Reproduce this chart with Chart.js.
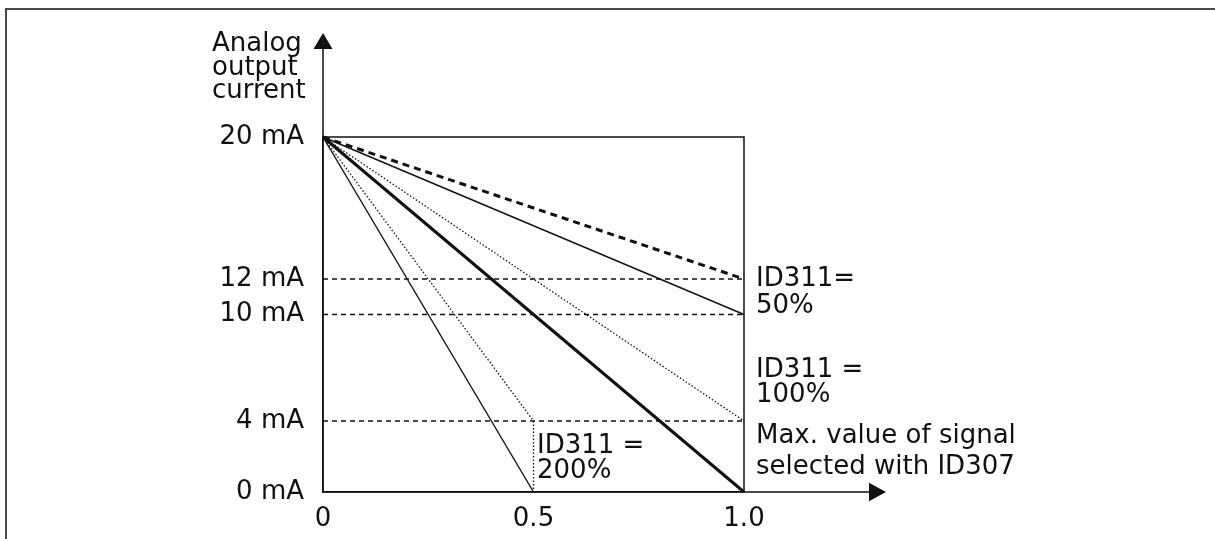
<!DOCTYPE html>
<html>
<head>
<meta charset="utf-8">
<script src="https://cdn.jsdelivr.net/npm/chart.js@4/dist/chart.umd.min.js"></script>
<style>
  html, body { margin: 0; padding: 0; background: #fff; }
  #wrap { position: relative; width: 1215px; height: 539px; overflow: hidden; }
  #frame { position: absolute; left: 5px; top: 8px; right: -10px; bottom: -10px;
           border-top: 2px solid #4a4a4a; border-left: 2px solid #4a4a4a; pointer-events: none; }
</style>
</head>
<body>
<div id="wrap">
  <canvas id="chart" width="1215" height="539"></canvas>
  <div id="frame"></div>
</div>
<script>
// ---------- data (x: signal relative to max value, y: output current in mA) ----------
const xTicks = [0, 0.5, 1.0];
const yTicks = [0, 4, 10, 12, 20];

const fullX = [0, 1.0];
const halfX = [0, 0.5];

const dashed50 = [20, 12];      // thick dashed, ID311 = 50%
const solid50 = [20, 10];       // thin solid, ID311 = 50%
const dotted100 = [20, 4];      // dotted, ID311 = 100%
const solid100 = [20, 0];       // thick solid, ID311 = 100%
const dotted200X = [0, 0.5, 0.5];
const dotted200 = [20, 4, 0];   // dotted, ID311 = 200%
const solid200 = [20, 0];       // thin solid, ID311 = 200%

const refLevels = [12, 10, 4];  // dashed helper lines
const boxX = [0, 1.0, 1.0];
const boxY = [20, 20, 0];

const INK = '#111';
const FONT = '"DejaVu Sans", Verdana, sans-serif';

const pts = (xs, ys) => xs.map((x, i) => ({ x, y: ys[i] }));

function line(data, width, dash) {
  return {
    data, borderColor: INK, borderWidth: width, borderDash: dash || [],
    showLine: true, pointRadius: 0, fill: false, clip: false, tension: 0,
  };
}

const datasets = [
  line(pts(boxX, boxY), 1.5),
  ...refLevels.map(v => line(pts(fullX, [v, v]), 1.5, [5, 4])),
  line(pts(fullX, dashed50), 3, [7, 5]),
  line(pts(fullX, solid50), 1.4),
  line(pts(fullX, dotted100), 1.3, [1.5, 2]),
  line(pts(fullX, solid100), 3),
  line(pts(dotted200X, dotted200), 1.3, [1.5, 2]),
  line(pts(halfX, solid200), 1.4),
];

// ---------- extra drawing: axis arrows and annotation texts ----------
const decor = {
  id: 'decor',
  afterDraw(chart) {
    const { ctx, scales: { x, y } } = chart;
    const x0 = x.getPixelForValue(0);
    const y0 = y.getPixelForValue(0);
    ctx.save();
    ctx.strokeStyle = INK;
    ctx.fillStyle = INK;
    ctx.lineWidth = 1.5;

    // y axis up to arrow
    ctx.beginPath();
    ctx.moveTo(x0, y0);
    ctx.lineTo(x0, 49);
    ctx.stroke();
    ctx.beginPath();
    ctx.moveTo(x0 - 9.5, 49);
    ctx.lineTo(x0 + 9.5, 49);
    ctx.lineTo(x0, 33);
    ctx.closePath();
    ctx.fill();

    // x axis to arrow
    ctx.beginPath();
    ctx.moveTo(x0, y0);
    ctx.lineTo(869, y0);
    ctx.stroke();
    ctx.beginPath();
    ctx.moveTo(869, y0 - 9.3);
    ctx.lineTo(869, y0 + 9.3);
    ctx.lineTo(886, y0);
    ctx.closePath();
    ctx.fill();

    ctx.font = `26px ${FONT}`;
    ctx.textAlign = 'left';
    ctx.textBaseline = 'alphabetic';
    const texts = [
      ['Analog', 212, 51], ['output', 212, 75], ['current', 212, 98],
      ['ID311=', 756, 286], ['50%', 756, 313],
      ['ID311 =', 756, 377], ['100%', 756, 402],
      ['Max. value of signal', 756, 443], ['selected with ID307', 756, 474],
      ['ID311 =', 537, 453], ['200%', 537, 478],
    ];
    texts.forEach(([t, tx, ty]) => ctx.fillText(t, tx, ty));
    ctx.restore();
  },
};

new Chart(document.getElementById('chart'), {
  type: 'scatter',
  data: { datasets },
  plugins: [decor],
  options: {
    responsive: false,
    animation: false,
    events: [],
    layout: { padding: { left: 0, top: 137, right: 471, bottom: 0 } },
    plugins: { legend: { display: false }, tooltip: { enabled: false } },
    scales: {
      x: {
        type: 'linear', min: 0, max: 1,
        grid: { display: false },
        border: { display: true, color: INK, width: 1.5 },
        afterBuildTicks: s => { s.ticks = xTicks.map(v => ({ value: v })); },
        afterFit: s => { s.height = 47; },
        ticks: {
          color: INK, padding: 4, maxRotation: 0, autoSkip: false,
          font: { family: FONT, size: 26 },
          callback: v => (v === 0 ? '0' : v.toFixed(1)),
        },
      },
      y: {
        type: 'linear', min: 0, max: 20,
        grid: { display: false },
        border: { display: true, color: INK, width: 1.5 },
        afterBuildTicks: s => { s.ticks = yTicks.map(v => ({ value: v })); },
        afterFit: s => { s.width = 323; },
        ticks: {
          color: INK, padding: 11, autoSkip: false,
          font: { family: FONT, size: 26 },
          callback: v => `${v} mA`,
        },
      },
    },
  },
});
</script>
</body>
</html>
